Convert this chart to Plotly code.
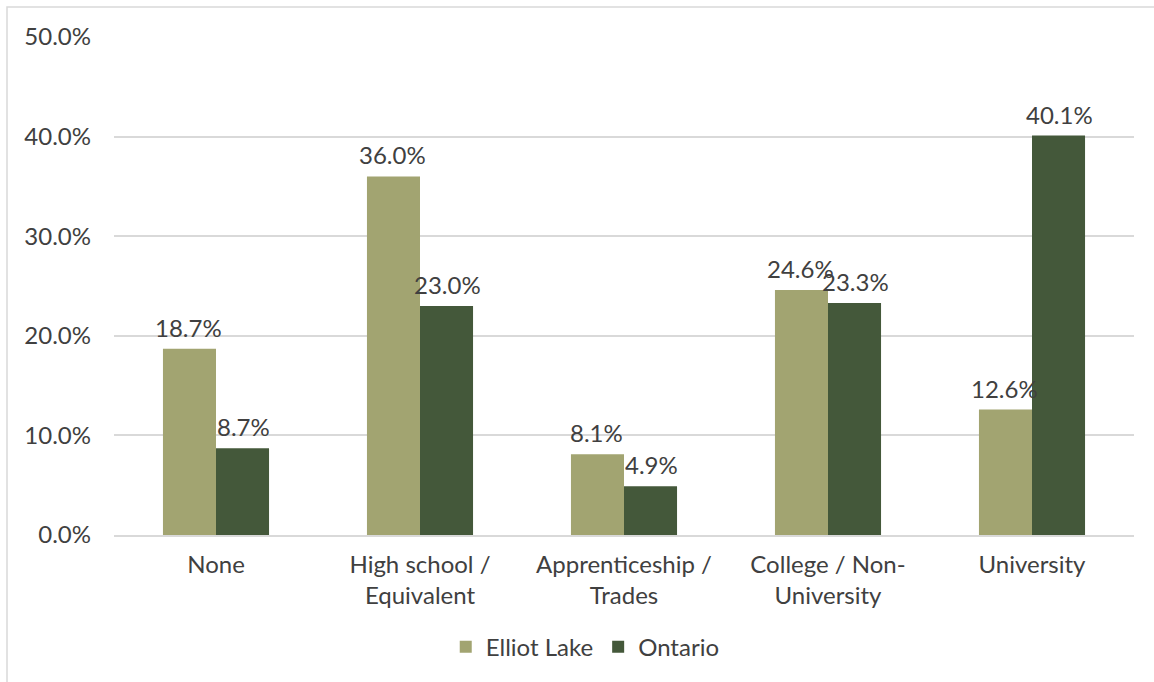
import plotly.graph_objects as go

categories = ["None", "High school /<br>Equivalent", "Apprenticeship /<br>Trades",
              "College / Non-<br>University", "University"]
elliot_lake = [18.7, 36.0, 8.1, 24.6, 12.6]
ontario = [8.7, 23.0, 4.9, 23.3, 40.1]
tick_vals = [0, 10, 20, 30, 40, 50]
tick_text = ["0.0%", "10.0%", "20.0%", "30.0%", "40.0%", "50.0%"]

font_family = "Lato, 'Open Sans', sans-serif"
text_color = "#404040"
fs = 24

fig = go.Figure()
fig.add_trace(go.Bar(
    name="Elliot Lake", x=categories, y=elliot_lake,
    marker=dict(color="#a2a471", line=dict(width=0)),
))
fig.add_trace(go.Bar(
    name="Ontario", x=categories, y=ontario,
    marker=dict(color="#44583a", line=dict(width=0)),
))

annotations = []
for series, shift in ((elliot_lake, -27.5), (ontario, 27.5)):
    for cat, v in zip(categories, series):
        annotations.append(dict(
            x=cat, y=v, xref="x", yref="y", xshift=shift, yshift=5,
            text=f"{v:.1f}%", showarrow=False, yanchor="bottom", xanchor="center",
            font=dict(size=fs, color=text_color, family=font_family),
        ))

fig.update_layout(
    width=1154, height=682,
    margin=dict(l=114, r=20, t=37, b=147, autoexpand=False),
    paper_bgcolor="white", plot_bgcolor="white",
    barmode="group", bargap=0.48, bargroupgap=0,
    font=dict(family=font_family, size=fs, color=text_color),
    showlegend=True,
    legend=dict(orientation="h", x=0.462, xanchor="center", y=-0.18, yanchor="top",
                font=dict(size=fs, color=text_color), itemwidth=30, tracegroupgap=0),
    xaxis=dict(showgrid=False, showline=True, linecolor="#d9d9d9", linewidth=1.5,
               ticks="", tickfont=dict(size=fs, color=text_color), ticklabelstandoff=7,
               automargin=False),
    yaxis=dict(range=[0, 50], tickvals=tick_vals, ticktext=tick_text,
               showgrid=True, gridcolor="#d9d9d9", gridwidth=1.5, zeroline=False,
               ticks="", ticklen=0, tickfont=dict(size=fs, color=text_color),
               ticklabelstandoff=22, automargin=False),
    annotations=annotations,
    shapes=[dict(type="rect", xref="paper", yref="paper",
                 x0=(7 - 114) / 1020, x1=1.1, y0=-0.5, y1=(535 - 7) / 498,
                 line=dict(color="#d9d9d9", width=1.5), fillcolor="rgba(0,0,0,0)",
                 layer="below")],
)

fig.write_html("out.html", config={"displayModeBar": False},
               post_script="document.body.style.margin='0';")
